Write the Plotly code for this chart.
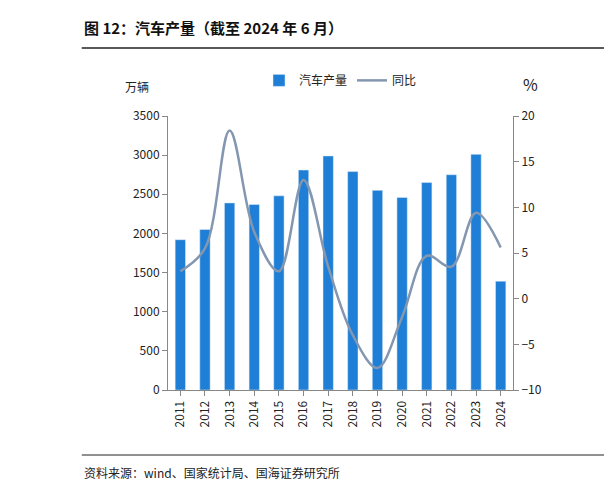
import plotly.graph_objects as go

years = [str(y) for y in range(2011, 2025)]
production = [1920, 2050, 2390, 2370, 2480, 2810, 2990, 2790, 2550, 2460, 2650, 2750, 3010, 1390]
yoy = [3.0, 5.5, 18.4, 7.3, 3.0, 13.0, 3.5, -4.0, -7.6, -2.0, 4.7, 3.5, 9.4, 5.6]

font = "Noto Sans CJK SC"
fig = go.Figure()
fig.add_trace(go.Bar(x=years, y=production, name="汽车产量", marker_color="#1F7FD6", width=0.42, yaxis="y"))
fig.add_trace(go.Scatter(x=years, y=yoy, name="同比", mode="lines", line=dict(color="#8497B0", width=2.5, shape="spline", smoothing=1.0), yaxis="y2"))

fig.update_layout(
    width=612, height=486, plot_bgcolor="white", paper_bgcolor="white",
    font=dict(family=font, size=12, color="#222"),
    margin=dict(l=160, r=107, t=108, b=104, autoexpand=False),
    bargap=0.5,
    xaxis=dict(tickangle=-90, showline=True, linecolor="#888", ticks="outside", tickcolor="#888", tickfont=dict(size=12)),
    yaxis=dict(range=[0, 3500], dtick=500, showgrid=False, showline=True, linecolor="#888", ticks="outside", tickcolor="#888", zeroline=False),
    yaxis2=dict(range=[-10, 20], dtick=5, overlaying="y", side="right", showgrid=False, showline=True, linecolor="#888", ticks="outside", tickcolor="#888", zeroline=False),
    legend=dict(orientation="h", x=0.5, xanchor="center", y=1.13, yanchor="middle", font=dict(size=12)),
    showlegend=True,
)
H = 486 - 108 - 104
def py(px):
    return 1 - (px - 108) / H
fig.add_annotation(text="<b>图 12：汽车产量（截至 2024 年 6 月）</b>", xref="paper", yref="paper", x=-0.25, y=py(20), xanchor="left", yanchor="middle", showarrow=False, font=dict(size=15, color="#111"))
fig.add_annotation(text="万辆", xref="paper", yref="paper", x=-0.09, y=py(78), xanchor="center", yanchor="middle", showarrow=False, font=dict(size=12))
fig.add_annotation(text="%", xref="paper", yref="paper", x=1.05, y=py(76), xanchor="center", yanchor="middle", showarrow=False, font=dict(size=16))
fig.add_annotation(text="资料来源：wind、国家统计局、国海证券研究所", xref="paper", yref="paper", x=-0.25, y=py(464), xanchor="left", yanchor="middle", showarrow=False, font=dict(size=12))
fig.add_shape(type="line", xref="paper", yref="paper", x0=-0.25, x1=1.31, y0=py(40), y1=py(40), line=dict(color="#222", width=1.5))
fig.add_shape(type="line", xref="paper", yref="paper", x0=-0.25, x1=1.31, y0=py(447), y1=py(447), line=dict(color="#222", width=1))
fig.write_html("out.html")
